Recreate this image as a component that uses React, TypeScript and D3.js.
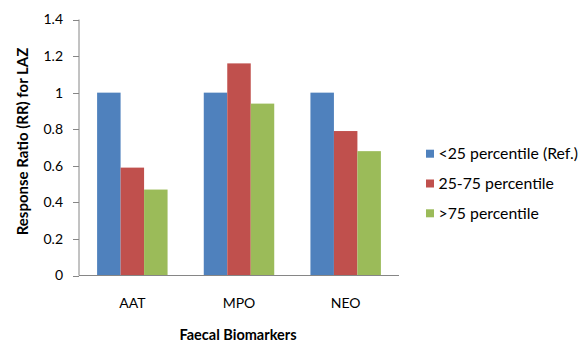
import React from "react";
import * as d3 from "d3";

const categories = ["AAT", "MPO", "NEO"];
const seriesNames = ["<25 percentile (Ref.)", "25-75 percentile", ">75 percentile"];
const ref = [1, 1, 1];
const mid = [0.59, 1.16, 0.79];
const high = [0.47, 0.94, 0.68];
const yTicks = [0, 0.2, 0.4, 0.6, 0.8, 1, 1.2, 1.4];
const colors = ["#4F81BD", "#C0504D", "#9BBB59"];

const W = 579, H = 342;
const left = 79, right = 399, top = 19.5, bottom = 275.5;
const font = "Lato, 'Open Sans', sans-serif";

export default function App() {
  const series = [ref, mid, high];
  const x = d3.scaleBand<string>().domain(categories).range([left, right]).paddingInner(0).paddingOuter(0);
  const inner = d3.scaleBand<number>().domain([0, 1, 2]).range([18.1, x.bandwidth() - 18.1]);
  const y = d3.scaleLinear().domain([0, 1.4]).range([bottom, top]);
  return (
    <svg width={W} height={H} style={{ position: "absolute", left: 0, top: 0, background: "#fff" }} fontFamily={font}>
      {categories.map((c, ci) =>
        series.map((s, si) => (
          <rect key={c + si} x={(x(c) ?? 0) + (inner(si) ?? 0)} width={inner.bandwidth()}
            y={y(s[ci])} height={y(0) - y(s[ci])} fill={colors[si]} />
        ))
      )}
      <line x1={left} x2={left} y1={top} y2={bottom} stroke="#868686" strokeWidth={1} />
      <line x1={left} x2={right} y1={bottom} y2={bottom} stroke="#868686" strokeWidth={1.2} />
      {yTicks.map(t => (
        <g key={t}>
          <line x1={left - 6} x2={left} y1={Math.round(y(t)) + 0.5} y2={Math.round(y(t)) + 0.5} stroke="#868686" />
          <text x={63} y={y(t)} dy="0.35em" textAnchor="end" fontSize={14} fill="#000">{String(t)}</text>
        </g>
      ))}
      {categories.map(c => (
        <text key={c} x={(x(c) ?? 0) + x.bandwidth() / 2} y={308} textAnchor="middle" fontSize={14} fill="#000">{c}</text>
      ))}
      <text x={238} y={340} textAnchor="middle" fontSize={14.5} fontWeight="bold" fill="#000">Faecal Biomarkers</text>
      <text transform={`translate(28,141.5) rotate(-90)`} textAnchor="middle" fontSize={15} fontWeight="bold" fill="#000">Response Ratio (RR) for LAZ</text>
      {seriesNames.map((n, i) => (
        <g key={n} transform={`translate(426,${153.7 + i * 29.8})`}>
          <rect x={0} y={-4} width={8} height={8} fill={colors[i]} />
          <text x={12.5} y={0} dy="0.35em" fontSize={15.8} fill="#000">{n}</text>
        </g>
      ))}
    </svg>
  );
}
